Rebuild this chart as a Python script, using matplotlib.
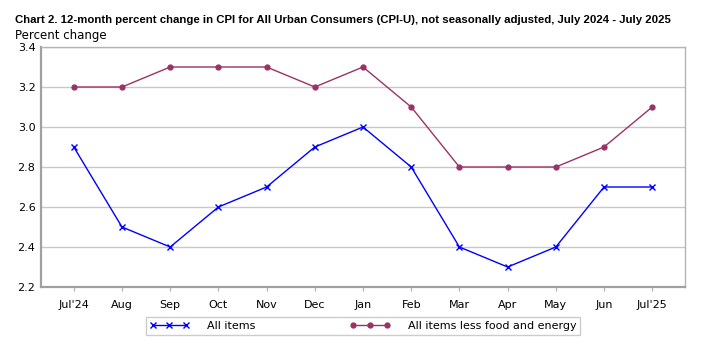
import matplotlib
matplotlib.use("Agg")
import matplotlib.pyplot as plt

months = ["Jul'24", "Aug", "Sep", "Oct", "Nov", "Dec", "Jan", "Feb",
          "Mar", "Apr", "May", "Jun", "Jul'25"]
all_items = [2.9, 2.5, 2.4, 2.6, 2.7, 2.9, 3.0, 2.8, 2.4, 2.3, 2.4, 2.7, 2.7]
core = [3.2, 3.2, 3.3, 3.3, 3.3, 3.2, 3.3, 3.1, 2.8, 2.8, 2.8, 2.9, 3.1]
y_ticks = [2.2, 2.4, 2.6, 2.8, 3.0, 3.2, 3.4]

plt.rcParams["font.family"] = ["DejaVu Sans"]

fig = plt.figure(figsize=(7.03, 3.49), dpi=100)
ax = fig.add_axes([41 / 703, 1 - 287 / 349, 644 / 703, 240 / 349])

x = list(range(len(months)))
l1, = ax.plot(x, all_items, color="#0000ff", lw=1.0, marker="x",
              markersize=5, markeredgewidth=1.0, label="All items")
l2, = ax.plot(x, core, color="#993366", lw=1.0, marker="o",
              markersize=3.5, label="All items less food and energy")

ax.set_xlim(-0.68, 12.68)
ax.set_ylim(2.2, 3.4)
ax.set_yticks(y_ticks)
ax.set_yticklabels([f"{v:.1f}" for v in y_ticks], fontsize=8)
ax.set_xticks(x)
ax.set_xticklabels(months, fontsize=8)
ax.yaxis.grid(True, color="#c8c8c8", lw=1.0)
ax.set_axisbelow(True)
ax.tick_params(axis="y", length=0, pad=4)
ax.tick_params(axis="x", length=3, color="#b0b0b0", pad=6)

for side in ["left", "bottom"]:
    ax.spines[side].set_color("#a0a0a0")
    ax.spines[side].set_linewidth(1.6)
for side in ["top", "right"]:
    ax.spines[side].set_color("#b4b4b4")
    ax.spines[side].set_linewidth(1.0)

fig.text(15 / 703, 1 - 20 / 349,
         "Chart 2. 12-month percent change in CPI for All Urban Consumers (CPI-U), "
         "not seasonally adjusted, July 2024 - July 2025",
         fontsize=8.2, fontweight="bold", va="center", ha="left",
         family=["Liberation Sans", "DejaVu Sans"])
fig.text(15 / 703, 1 - 35 / 349, "Percent change", fontsize=8.5,
         va="center", ha="left")

leg = fig.legend(handles=[l1, l2], loc="center",
                 bbox_to_anchor=(363 / 703, 1 - 326 / 349), ncol=2,
                 fontsize=8, frameon=True, fancybox=False,
                 columnspacing=8.5, handlelength=3.6, handletextpad=1.6,
                 borderpad=0.35, numpoints=3)
leg.get_frame().set_edgecolor("#c0c0c0")
leg.get_frame().set_linewidth(1.0)

fig.savefig("out.png", dpi=100)
